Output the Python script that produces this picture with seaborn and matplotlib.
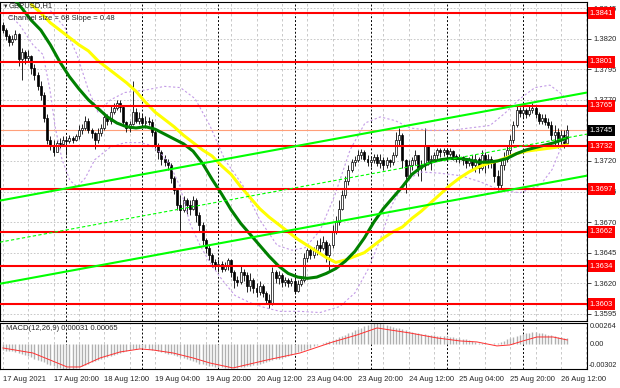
import numpy as np
import matplotlib
matplotlib.use('Agg')
import matplotlib.pyplot as plt
import matplotlib.transforms as mtransforms
import seaborn as sns

# GBPUSD H1, 17 Aug 04:00 .. 26 Aug 14:00, one value per bar
# prices kept in pips (13745 = 1.3745)
first_open = 13831
close_pips = [13827, 13822, 13817, 13820, 13824, 13803, 13809, 13804, 13806, 13796,
              13790, 13781, 13774, 13755, 13737, 13733, 13727, 13735, 13734, 13737,
              13736, 13739, 13737, 13740, 13745, 13747, 13753, 13745, 13743, 13737,
              13743, 13747, 13756, 13753, 13760, 13763, 13767, 13764, 13752, 13747,
              13750, 13760, 13753, 13755, 13751, 13753, 13752, 13744, 13733, 13727,
              13722, 13719, 13717, 13706, 13696, 13684, 13680, 13688, 13684, 13681,
              13688, 13676, 13668, 13655, 13649, 13643, 13637, 13635, 13636, 13632,
              13634, 13639, 13629, 13623, 13621, 13629, 13627, 13618, 13623, 13616,
              13613, 13618, 13612, 13606, 13603, 13629, 13624, 13627, 13621, 13623,
              13620, 13622, 13614, 13619, 13623, 13641, 13647, 13643, 13647, 13651,
              13649, 13654, 13643, 13651, 13662, 13670, 13681, 13692, 13704, 13713,
              13719, 13721, 13725, 13727, 13722, 13719, 13721, 13723, 13718, 13721,
              13717, 13721, 13719, 13725, 13737, 13741, 13721, 13708, 13717, 13721,
              13725, 13714, 13717, 13733, 13721, 13722, 13725, 13729, 13727, 13729,
              13726, 13728, 13724, 13722, 13723, 13721, 13718, 13721, 13717, 13722,
              13714, 13725, 13721, 13722, 13719, 13708, 13700, 13717, 13722, 13729,
              13737, 13749, 13762, 13759, 13762, 13758, 13762, 13763, 13758, 13753,
              13755, 13752, 13749, 13741, 13744, 13737, 13741, 13735, 13745]
high_pips = [13834, 13829, 13824, 13823, 13827, 13825, 13812, 13811, 13811, 13807,
             13799, 13793, 13785, 13776, 13758, 13740, 13737, 13737, 13739, 13740,
             13740, 13741, 13740, 13742, 13749, 13750, 13757, 13755, 13747, 13744,
             13747, 13750, 13760, 13758, 13765, 13767, 13770, 13770, 13766, 13753,
             13753, 13785, 13763, 13760, 13758, 13757, 13756, 13754, 13745, 13735,
             13729, 13725, 13722, 13718, 13708, 13696, 13692, 13691, 13690, 13688,
             13691, 13690, 13678, 13670, 13657, 13651, 13645, 13640, 13640, 13638,
             13637, 13641, 13640, 13631, 13626, 13634, 13632, 13629, 13628, 13624,
             13620, 13622, 13619, 13614, 13611, 13633, 13631, 13630, 13628, 13625,
             13624, 13624, 13626, 13623, 13626, 13645, 13649, 13650, 13650, 13655,
             13657, 13659, 13655, 13653, 13668, 13675, 13688, 13696, 13708, 13717,
             13722, 13724, 13729, 13730, 13729, 13725, 13724, 13726, 13726, 13726,
             13723, 13723, 13722, 13727, 13744, 13747, 13743, 13722, 13721, 13723,
             13729, 13725, 13721, 13747, 13733, 13725, 13727, 13731, 13731, 13731,
             13731, 13731, 13729, 13726, 13726, 13724, 13722, 13723, 13725, 13726,
             13723, 13729, 13727, 13726, 13724, 13721, 13713, 13721, 13727, 13733,
             13741, 13753, 13766, 13764, 13765, 13763, 13766, 13767, 13765, 13760,
             13758, 13758, 13755, 13753, 13749, 13747, 13745, 13745, 13749]
low_pips = [13825, 13819, 13814, 13815, 13819, 13798, 13786, 13799, 13801, 13791,
            13786, 13778, 13770, 13752, 13734, 13729, 13724, 13729, 13731, 13732,
            13725, 13735, 13735, 13736, 13738, 13742, 13745, 13743, 13739, 13730,
            13735, 13740, 13745, 13749, 13750, 13758, 13762, 13760, 13749, 13744,
            13744, 13749, 13751, 13750, 13748, 13747, 13749, 13740, 13729, 13722,
            13717, 13716, 13713, 13702, 13693, 13680, 13663, 13678, 13677, 13676,
            13680, 13670, 13662, 13651, 13645, 13639, 13633, 13631, 13629, 13629,
            13630, 13631, 13625, 13616, 13618, 13619, 13622, 13613, 13614, 13612,
            13609, 13610, 13609, 13603, 13600, 13602, 13620, 13619, 13617, 13618,
            13617, 13618, 13611, 13613, 13618, 13621, 13637, 13640, 13641, 13643,
            13645, 13647, 13637, 13631, 13649, 13660, 13668, 13680, 13690, 13700,
            13711, 13716, 13719, 13722, 13720, 13716, 13715, 13718, 13716, 13714,
            13713, 13714, 13715, 13717, 13723, 13733, 13714, 13694, 13706, 13713,
            13717, 13708, 13704, 13713, 13717, 13713, 13719, 13722, 13723, 13724,
            13723, 13724, 13721, 13719, 13718, 13717, 13714, 13716, 13713, 13711,
            13710, 13713, 13710, 13714, 13714, 13703, 13696, 13698, 13713, 13719,
            13725, 13735, 13748, 13756, 13755, 13755, 13757, 13759, 13755, 13750,
            13750, 13749, 13747, 13737, 13733, 13731, 13732, 13731, 13737]

# moving averages read at sample bars
green_bars = [0, 3, 6, 9, 12, 15, 18, 21, 24, 27, 30, 33, 36, 39, 42, 45, 48, 51, 54, 57,
              60, 63, 66, 69, 72, 75, 78, 81, 84, 87, 90, 93, 96, 99, 102, 105, 108, 111,
              114, 117, 120, 123, 126, 129, 132, 135, 138, 141, 144, 147, 150, 153, 156,
              159, 162, 165, 168, 171, 174, 178]
green_pips = [13861, 13854, 13845, 13835, 13827, 13815, 13801, 13789, 13779, 13770,
              13763, 13756, 13751, 13748, 13747, 13748, 13746, 13742, 13738, 13734,
              13728, 13718, 13705, 13693, 13680, 13669, 13660, 13651, 13642, 13634,
              13628, 13625, 13624, 13625, 13628, 13632, 13638, 13646, 13657, 13670,
              13681, 13690, 13699, 13709, 13715, 13719, 13721, 13722, 13722, 13721,
              13719, 13719, 13720, 13722, 13726, 13729, 13731, 13733, 13735, 13739]
yellow_bars = [9, 12, 15, 18, 21, 24, 27, 30, 33, 36, 39, 42, 45, 48, 51, 54, 57, 60, 63,
               66, 69, 72, 75, 78, 81, 84, 87, 90, 93, 96, 99, 102, 105, 108, 111, 114,
               117, 120, 123, 126, 129, 132, 135, 138, 141, 144, 147, 150, 153, 156, 159,
               162, 165, 168, 171, 174, 178]
yellow_pips = [13848, 13841, 13833, 13827, 13821, 13815, 13810, 13802, 13796, 13790,
               13784, 13777, 13768, 13760, 13754, 13748, 13741, 13735, 13729, 13724,
               13716, 13709, 13699, 13690, 13681, 13674, 13668, 13662, 13656, 13651,
               13646, 13641, 13637, 13639, 13642, 13645, 13651, 13657, 13662, 13666,
               13673, 13679, 13686, 13693, 13700, 13706, 13711, 13715, 13718, 13720,
               13723, 13726, 13728, 13729, 13730, 13731, 13733]

# envelope bands (dotted violet)
upper_bars = [15, 19.6, 23.4, 27, 30, 34, 38.5, 45, 51, 56, 60.6, 65.3, 70, 75.7, 81,
              86.5, 91.2, 95.3, 100, 104.7, 109.5, 114.2, 119, 123.7, 128.4, 134.7, 141,
              147.3, 153.6, 158.3, 163.1, 167.8, 172.5, 176.6, 178.2]
upper_pips = [13843, 13829, 13807, 13778, 13760, 13770, 13776, 13778, 13781, 13780,
              13771, 13749, 13721, 13700, 13672, 13651, 13647, 13649, 13663, 13692,
              13729, 13751, 13756, 13753, 13747, 13745, 13745, 13747, 13749, 13759,
              13771, 13780, 13782, 13774, 13764]
lower_bars = [2.3, 5.4, 9.5, 12.7, 14.9, 16.5, 18.7, 21.2, 23.4, 26, 29, 33.8, 38.5,
              43.3, 46.4, 49.6, 52.7, 55.9, 59, 62.2, 65.3, 69.1, 73.2, 78, 82.7, 87.4,
              93.7, 100, 106.3, 111, 115.1, 118.9, 122.7, 126.8, 131.5, 137.8, 144.2,
              150.5, 156.8, 163.1, 169.4, 173.2, 175.7, 178.2]
lower_pips = [13839, 13831, 13815, 13807, 13778, 13748, 13721, 13704, 13699, 13706,
              13721, 13731, 13735, 13735, 13733, 13727, 13717, 13699, 13669, 13651,
              13637, 13623, 13610, 13604, 13600, 13597, 13597, 13596, 13601, 13612,
              13631, 13655, 13684, 13703, 13711, 13710, 13708, 13703, 13696, 13694,
              13700, 13713, 13729, 13744]

# MACD(12,26,9): main histogram per bar and signal, in 1e-5
macd_hist = [-70, -75, -80, -85, -90, -100, -115, -130, -145, -160,
             -175, -190, -205, -220, -240, -255, -270, -285, -295, -300,
             -302, -300, -298, -290, -280, -265, -250, -235, -220, -205,
             -190, -175, -160, -150, -140, -128, -117, -105, -95, -85,
             -72, -62, -52, -45, -43, -48, -55, -63, -72, -80,
             -90, -100, -112, -122, -132, -142, -152, -165, -178, -190,
             -205, -220, -235, -245, -255, -262, -268, -273, -278, -282,
             -285, -288, -289, -288, -285, -280, -275, -268, -262, -255,
             -248, -240, -230, -218, -205, -195, -185, -175, -162, -150,
             -138, -125, -112, -98, -85, -70, -55, -40, -25, -8,
             5, 18, 30, 43, 55, 72, 88, 105, 122, 140,
             158, 175, 192, 208, 225, 240, 252, 262, 264, 258,
             250, 240, 228, 218, 208, 198, 185, 172, 160, 152,
             145, 138, 130, 125, 120, 116, 112, 110, 106, 102,
             98, 94, 90, 85, 80, 72, 62, 52, 42, 32,
             24, 18, 14, 10, 8, 12, 20, 32, 48, 62,
             78, 95, 110, 122, 132, 140, 146, 150, 148, 142,
             136, 128, 120, 112, 104, 96, 88, 80, 74]
signal_bars = [0, 9.5, 20.3, 24.4, 30.7, 37, 43.3, 47.4, 53.7, 60, 65.3, 72.6, 83.3,
               93.7, 104.1, 111.7, 118, 128.4, 136.9, 144.2, 149.5, 155.8, 159.9, 164,
               168.4, 173.5, 178]
signal_vals = [-43, -105, -277, -277, -166, -92, -55, -68, -105, -166, -228, -289, -191,
               -105, 31, 117, 203, 141, 80, 43, 31, -18, -6, 43, 92, 92, 55]

levels = [1.3841, 1.3801, 1.3765, 1.3732, 1.3697, 1.3662, 1.3634, 1.3603]
grid_prices = [1.3845, 1.3820, 1.3795, 1.3770, 1.3745, 1.3720, 1.3695, 1.3670,
               1.3645, 1.3620, 1.3595]
bid = 1.3745
channel_bars = [0, 178]
channel_upper = [1.3688, 1.3773]
channel_size = 0.0068

tick_bars = [0, 16, 32, 48, 64, 80, 96, 112, 128, 144, 160, 176]
tick_labels = ['17 Aug 2021', '17 Aug 20:00', '18 Aug 12:00', '19 Aug 04:00',
               '19 Aug 20:00', '20 Aug 12:00', '23 Aug 04:00', '23 Aug 20:00',
               '24 Aug 12:00', '25 Aug 04:00', '25 Aug 20:00', '26 Aug 12:00']
day_breaks = [20, 44, 68, 92, 116, 140, 164]
macd_labels = [0.00264, 0.0, -0.00302]

sns.set_style('white')
plt.rcParams['font.family'] = ['Liberation Sans', 'DejaVu Sans']

W, H = 620, 388
fig = plt.figure(figsize=(W / 100, H / 100), dpi=100)
ax = fig.add_axes([0, (H - 321) / H, 587 / W, 319 / H])
ax2 = fig.add_axes([0, (H - 369) / H, 587 / W, 46 / H])

close = np.array(close_pips) / 1e4
high = np.array(high_pips) / 1e4
low = np.array(low_pips) / 1e4
op = np.r_[first_open / 1e4, close[:-1]]
high = np.maximum(high, np.maximum(op, close))
low = np.minimum(low, np.minimum(op, close))
x = np.arange(len(close))

xlim = (-0.87, 184.2)
grid_col = '#c0c0c0'
for a in (ax, ax2):
    a.set_xlim(*xlim)
    for b in range(0, 185, 8):
        a.axvline(b, color=grid_col, lw=0.6, ls=(0, (3, 3)), zorder=0)
    for b in day_breaks:
        a.axvline(b, color='black', lw=0.7, ls=(0, (2, 2)), zorder=1)
    for s in a.spines.values():
        s.set_color('black')
        s.set_linewidth(0.8)

for p in grid_prices:
    ax.axhline(p, color=grid_col, lw=0.6, ls=(0, (2, 2)), zorder=0)
ax.axhline(bid, color='#ffa07a', lw=0.8, zorder=1)

# candles
ax.vlines(x, low, high, color='black', lw=0.6, zorder=3)
body_lo = np.minimum(op, close)
body_h = np.maximum(np.abs(close - op), 0.00005)
up = close >= op
ax.bar(x[up], body_h[up], bottom=body_lo[up], width=0.62, color='white',
       edgecolor='black', linewidth=0.5, zorder=4)
ax.bar(x[~up], body_h[~up], bottom=body_lo[~up], width=0.62, color='black',
       edgecolor='black', linewidth=0.5, zorder=4)

# bands and averages
band_col = '#c39be6'
ax.plot(upper_bars, np.array(upper_pips) / 1e4, color=band_col, lw=0.8, ls=(0, (2, 2)), zorder=5)
ax.plot(lower_bars, np.array(lower_pips) / 1e4, color=band_col, lw=0.8, ls=(0, (2, 2)), zorder=5)
sns.lineplot(x=yellow_bars, y=np.array(yellow_pips) / 1e4, ax=ax, color='#ffff00', lw=2.2, zorder=6)
sns.lineplot(x=green_bars, y=np.array(green_pips) / 1e4, ax=ax, color='#008000', lw=2.2, zorder=7)

# horizontal levels
for lv in levels:
    ax.axhline(lv, color='#ff0000', lw=1.5, zorder=8)

# regression channel
ch_col = '#00ff00'
p0 = (channel_bars[0], channel_upper[0])
p1 = (channel_bars[1], channel_upper[1])
ax.axline(p0, p1, color=ch_col, lw=1.5, zorder=8)
ax.axline((p0[0], p0[1] - channel_size), (p1[0], p1[1] - channel_size), color=ch_col, lw=1.5, zorder=8)
ax.axline((p0[0], p0[1] - channel_size / 2), (p1[0], p1[1] - channel_size / 2), color=ch_col,
          lw=0.8, ls=(0, (3, 2)), zorder=8)

ax.set_ylim(1.35891, 1.38500)
ax.set_xticks([])
ax.yaxis.tick_right()
ax.set_yticks(grid_prices)
ax.set_yticklabels(['' if p == bid else f'{p:.4f}' for p in grid_prices], fontsize=5.5)
ax.tick_params(axis='y', length=3, width=0.6, pad=2, direction='out')

tr = mtransforms.blended_transform_factory(ax.transAxes, ax.transData)
for lv in levels:
    ax.text(1.0045, lv, f'{lv:.4f}', transform=tr, ha='left', va='center', fontsize=5.5,
            color='white', zorder=20, clip_on=False,
            bbox=dict(boxstyle='square,pad=0.28', fc='#ff0000', ec='none'))
ax.text(1.0045, bid, f'{bid:.4f}', transform=tr, ha='left', va='center', fontsize=5.5,
        color='white', zorder=20, clip_on=False,
        bbox=dict(boxstyle='square,pad=0.28', fc='black', ec='none'))

fig.text(3 / W, 1 - 6 / H, '\u25bc', fontsize=4, va='center', ha='left')
fig.text(9 / W, 1 - 6 / H, 'GBPUSD,H1', fontsize=5.5, va='center', ha='left')
fig.text(8 / W, 1 - 19 / H, 'Channel size = 68 Slope = 0.48', fontsize=5.5, va='center', ha='left')

# MACD panel
hist = np.array(macd_hist) / 1e5
ax2.vlines(x, 0, hist, color='#b0b0b0', lw=1.0, zorder=2)
ax2.plot(signal_bars, np.array(signal_vals) / 1e5, color='#ff3030', lw=0.7, zorder=3)
ax2.set_ylim(-0.00302, 0.00264)
ax2.yaxis.tick_right()
ax2.set_yticks([])
tr2 = mtransforms.blended_transform_factory(ax2.transAxes, ax2.transData)
ax2.text(1.004, macd_labels[0], '0.00264', transform=tr2, fontsize=5.3, va='top', ha='left')
ax2.text(1.004, macd_labels[1], '0.00', transform=tr2, fontsize=5.3, va='center', ha='left')
ax2.text(1.002, macd_labels[2], '-0.00302', transform=tr2, fontsize=5.2, va='bottom', ha='left')
fig.text(6 / W, 1 - 329 / H, 'MACD(12,26,9) 0.00031 0.00065', fontsize=5.5, va='center', ha='left')
ax2.set_xticks(tick_bars)
ax2.set_xticklabels(tick_labels, fontsize=5.5, ha='left')
ax2.tick_params(axis='x', length=3, width=0.6, pad=2, direction='out')

fig.savefig('out.png', dpi=100, facecolor='white')
